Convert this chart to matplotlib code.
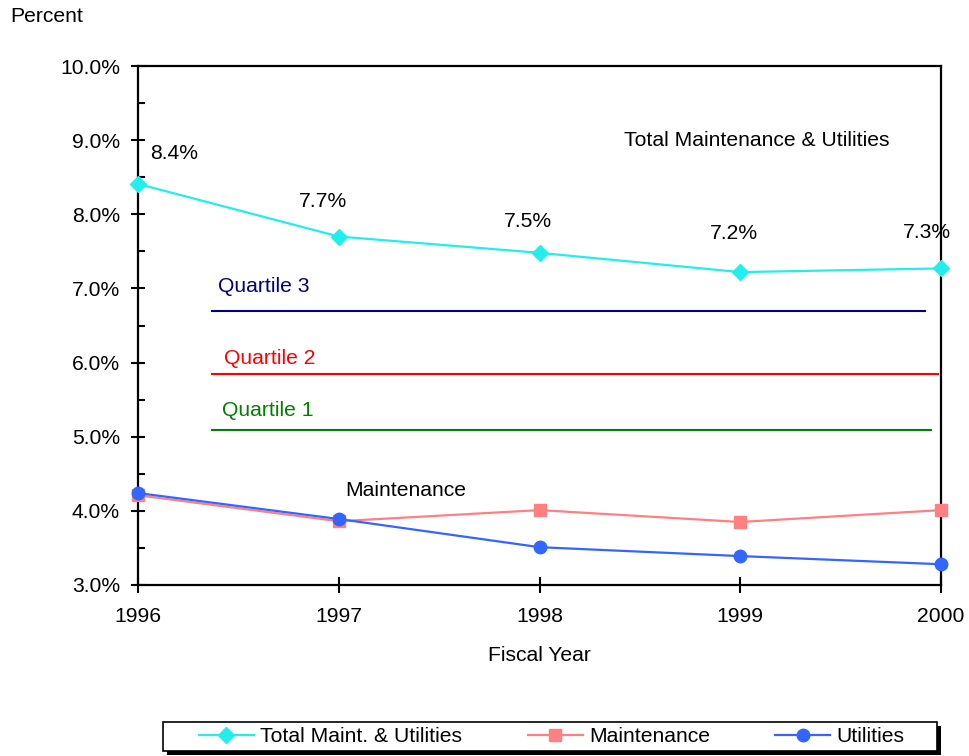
import matplotlib
matplotlib.use("Agg")
import matplotlib.pyplot as plt
from matplotlib.patches import Rectangle
from matplotlib.ticker import MultipleLocator, FuncFormatter

plt.rcParams['font.family'] = ['Liberation Sans', 'DejaVu Sans']

years = [1996, 1997, 1998, 1999, 2000]
total = [8.41, 7.70, 7.48, 7.22, 7.27]
total_labels = ["8.4%", "7.7%", "7.5%", "7.2%", "7.3%"]
maintenance = [4.21, 3.86, 4.01, 3.85, 4.01]
utilities = [4.24, 3.89, 3.51, 3.39, 3.28]

quartile_names = ["Quartile 3", "Quartile 2", "Quartile 1"]
quartile_values = [6.70, 5.85, 5.09]
quartile_start = [1996.37, 1996.37, 1996.37]
quartile_end = [1999.92, 1999.985, 1999.95]
quartile_colors = ["#000080", "#FF0000", "#008000"]

FS = 15.2
W, H = 969, 756

fig = plt.figure(figsize=(W/100, H/100), dpi=100)
ax = fig.add_axes([138/W, 1-585/H, (941-138)/W, (585-66)/H])

c_total = "#22EEEE"
c_maint = "#FF8080"
c_util = "#3366FF"

ax.plot(years, total, color=c_total, lw=1.6, marker='D', ms=8, mfc=c_total, mec=c_total,
        label="Total Maint. & Utilities", zorder=5, clip_on=False)
ax.plot(years, maintenance, color=c_maint, lw=1.6, marker='s', ms=8, mfc=c_maint, mec=c_maint,
        label="Maintenance", zorder=4, clip_on=False)
ax.plot(years, utilities, color=c_util, lw=1.6, marker='o', ms=9, mfc=c_util, mec=c_util,
        label="Utilities", zorder=5, clip_on=False)

for v, s, e, c in zip(quartile_values, quartile_start, quartile_end, quartile_colors):
    ax.plot([s, e], [v, v], color=c, lw=1.5, zorder=3)

# quartile labels
q_label_pos = [(1996.40, 7.03), (1996.43, 6.05), (1996.42, 5.35)]
for (x, y), n, c in zip(q_label_pos, quartile_names, quartile_colors):
    ax.text(x, y, n, color=c, fontsize=FS, ha='left', va='center')

# data labels
lab_pos = [(1996.18, 8.82), (1996.92, 8.17), (1997.94, 7.90), (1998.97, 7.74), (1999.93, 7.76)]
for (x, y), t in zip(lab_pos, total_labels):
    ax.text(x, y, t, fontsize=FS, ha='center', va='center')

ax.text(1997.03, 4.27, "Maintenance", fontsize=FS, ha='left', va='center')
ax.text(1998.42, 9.0, "Total Maintenance & Utilities", fontsize=FS, ha='left', va='center')

ax.set_xlim(1996, 2000)
ax.set_ylim(3.0, 10.0)
ax.set_xticks(years)
ax.xaxis.set_major_formatter(FuncFormatter(lambda v, p: f"{int(round(v))}"))
ax.yaxis.set_major_locator(MultipleLocator(1.0))
ax.yaxis.set_minor_locator(MultipleLocator(0.5))
ax.yaxis.set_major_formatter(FuncFormatter(lambda v, p: f"{v:.1f}%"))

for sp in ax.spines.values():
    sp.set_linewidth(1.6)
    sp.set_color('black')

ax.tick_params(axis='y', which='major', direction='inout', length=10, width=1.5, labelsize=FS, pad=8)
ax.tick_params(axis='y', which='minor', direction='in', length=5, width=1.5)
ax.tick_params(axis='x', which='major', direction='inout', length=12, width=1.5, labelsize=FS, pad=10)

ax.set_xlabel("Fiscal Year", fontsize=FS, labelpad=14)
fig.text(10/W, 1-17/H, "Percent", fontsize=FS, ha='left', va='center')

# legend frame with shadow (drawn as figure patches)
bx0, bx1, by0, by1 = 163, 937, 722, 751
fig.patches.append(Rectangle(((bx0+4)/W, 1-(by1+4)/H), (bx1-bx0)/W, (by1-by0)/H,
                             transform=fig.transFigure, facecolor='black', edgecolor='none', zorder=1))
fig.patches.append(Rectangle((bx0/W, 1-by1/H), (bx1-bx0)/W, (by1-by0)/H,
                             transform=fig.transFigure, facecolor='white', edgecolor='black',
                             lw=1.2, zorder=2))

leg = fig.legend(loc='center left', bbox_to_anchor=(199/W, 1-737/H), ncol=3, fontsize=FS,
                 frameon=False, borderpad=0.0, borderaxespad=0.0, handlelength=2.6,
                 columnspacing=3.1, handletextpad=0.3)
leg.set_zorder(3)

fig.savefig("out.png", dpi=100)
